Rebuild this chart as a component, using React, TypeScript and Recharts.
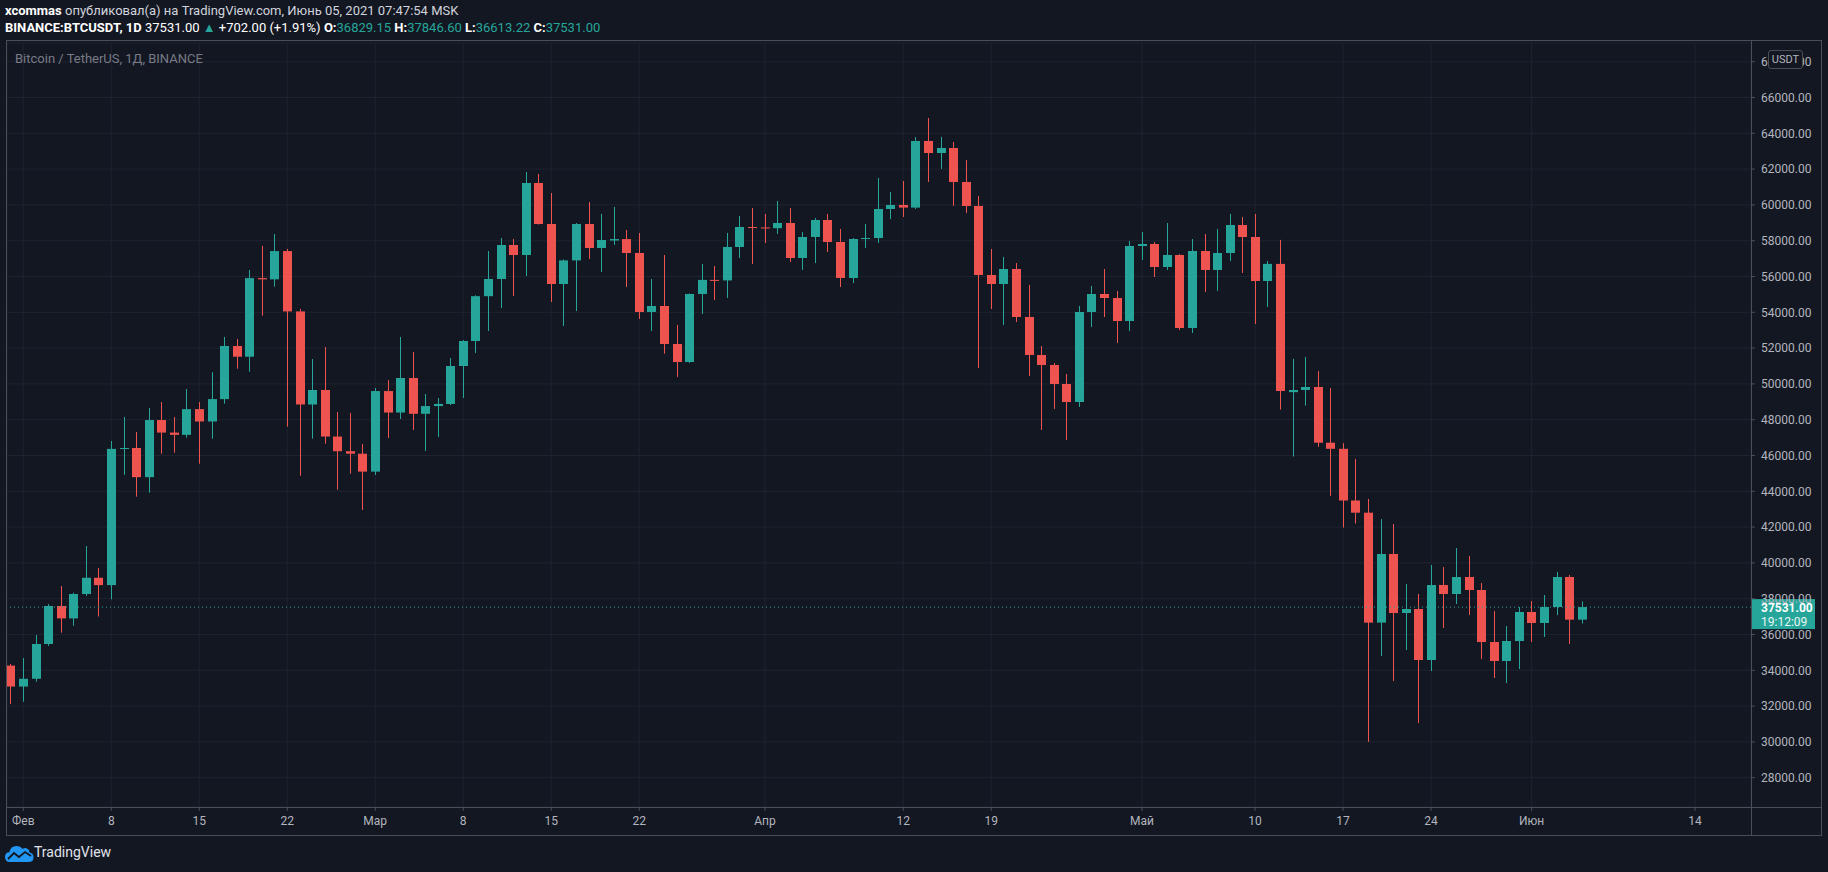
import React from 'react';
import { ComposedChart, Bar, XAxis, YAxis, CartesianGrid, ReferenceLine } from 'recharts';

// BINANCE:BTCUSDT daily, 31 Jan 2021 .. 5 Jun 2021
const open = [
  34262, 33092, 33526, 35469, 37592, 36900, 38262, 39170, 38760, 46370,
  46420, 44790, 47980, 47280, 47153, 48590, 47900, 49150, 52118, 51520,
  55910, 55841, 57420, 54050, 48850, 49660, 47060, 46240, 46100,
  45100, 49600, 48400, 50330, 48330, 48760, 48880, 51000, 52397, 54900,
  55860, 57760, 57202, 61224, 58934, 55582, 56900, 58934, 57593, 58010,
  58090, 57314, 54018, 54353, 52229, 51224, 55023, 55810, 55780, 57649, 58766,
  58740, 58700, 58990, 57035, 58208, 59157, 57928, 55917, 58096, 58150,
  59772, 59996, 59850, 63571, 62900, 63180, 61280, 59940, 56085, 55582,
  56420, 53738, 51615, 51056, 49995, 48989, 54017, 55023, 54800, 53515,
  57705, 57816, 56532, 57202, 53123, 57425, 56364, 57314, 58878, 58208,
  55749, 56705, 49540, 49659, 49827, 46715, 46374, 43486, 42804, 36664,
  40497, 37200, 37424, 34575, 38765, 38263, 39212, 38486, 35580, 34519, 35636,
  37256, 36642, 37535, 39212, 36829.15,
];

const high = [
  34351, 34686, 35972, 37700, 38709, 38335, 40944, 39715, 46810, 48151,
  47313, 48654, 48989, 48151, 49715, 48989, 50650, 52621, 52509, 56364,
  57705, 58375, 57537, 54185, 51391, 52062, 48430, 48374, 46642,
  49771, 50218, 52621, 51783, 49436, 49213, 51447, 52450, 54950, 57425,
  58152, 58096, 61839, 61727, 60666, 56950, 58990, 60163, 59493, 59884,
  58599, 58431, 55861, 57202, 53291, 55050, 56700, 56588, 58431, 59381, 59828,
  59493, 60219, 59828, 58487, 59269, 59493, 58655, 58150, 58934, 61504,
  60722, 61336, 63794, 64856, 63794, 63515, 62510, 60498, 57537, 57090,
  56754, 55526, 52118, 51168, 50553, 54353, 55470, 56420, 55191, 57984,
  58487, 57928, 58990, 57250, 58096, 58375, 58655, 59493, 59325, 59493,
  56866, 58046, 51397, 51509, 50715, 49771, 46693, 45804, 43575, 42447,
  42173, 38821, 38263, 39883, 39771, 40832, 40385, 38877, 37312, 36474, 37530,
  37871, 38206, 39492, 39325, 37846.6,
];

const low = [
  32116, 32245, 33362, 35360, 36100, 36491, 38150, 37005, 37966, 44920,
  43700, 43922, 46100, 46156, 46995, 45541, 46939, 48894, 50849, 50682,
  53810, 55431, 47609, 44871, 46939, 46659, 44090, 44983, 42955,
  44910, 46978, 48039, 47425, 46251, 47034, 48821, 49213, 51727, 52956,
  54241, 54911, 56029, 58900, 54576, 53235, 54073, 56979, 56252, 57761,
  55414, 53626, 52956, 51688, 50386, 51168, 53906, 54688, 54800, 57035, 56700,
  57872, 58375, 56811, 56366, 56754, 57370, 55414, 55637, 57593, 57872,
  59213, 59325, 59772, 61280, 62007, 59940, 59548, 50889, 54185, 53291,
  53459, 50442, 47425, 48598, 46866, 48710, 53179, 53738, 52285, 52956,
  56922, 55973, 56364, 53012, 52844, 55135, 55191, 56866, 56196, 53347,
  54297, 48564, 45939, 48788, 46486, 43748, 41972, 42201, 30000, 34798,
  33401, 35133, 31055, 33960, 36362, 37703, 37089, 34630, 33569, 33290, 34072,
  35580, 35860, 37089, 35469, 36613.22,
];

const close = [
  33092, 33526, 35469, 37592, 36900, 38262, 39170, 38760, 46370, 46420,
  44790, 47980, 47280, 47153, 48590, 47900, 49150, 52118, 51520, 55910,
  55841, 57420, 54050, 48850, 49660, 47060, 46240, 46100, 45100,
  49600, 48400, 50330, 48330, 48760, 48880, 51000, 52397, 54900, 55860,
  57760, 57202, 61224, 58934, 55582, 56900, 58934, 57593, 58040, 58090,
  57314, 54018, 54353, 52229, 51224, 55023, 55810, 55780, 57649, 58766, 58740,
  58700, 58990, 57035, 58208, 59157, 57928, 55917, 58096, 58150, 59772,
  59996, 59850, 63571, 62900, 63180, 61280, 59940, 56085, 55582, 56420,
  53738, 51615, 51056, 49995, 48989, 54017, 55023, 54800, 53515, 57705,
  57816, 56532, 57202, 53123, 57425, 56364, 57314, 58878, 58208, 55749,
  56705, 49604, 49659, 49827, 46715, 46374, 43486, 42804, 36664, 40497,
  37200, 37424, 34575, 38765, 38263, 39212, 38486, 35580, 34519, 35636, 37256,
  36642, 37535, 39212, 36829, 37531,
];

// day index 0 = 31 Jan
const xTickIdx = [1, 8, 15, 22, 29, 36, 43, 50, 60, 71, 78, 90, 99, 106, 113, 121, 134];
const xTickLabels = ['Фев', '8', '15', '22', 'Мар', '8', '15', '22', 'Апр', '12', '19', 'Май', '10', '17', '24', 'Июн', '14'];
const yTicks = [
  28000, 30000, 32000, 34000, 36000, 38000, 40000, 42000, 44000, 46000, 48000,
  50000, 52000, 54000, 56000, 58000, 60000, 62000, 64000, 66000, 68000,
];

const UP = '#26a69a';
const DOWN = '#ef5350';
const BG = '#131722';
const GRID = '#1f2330';
const FRAME = '#4a4e59';
const AXIS_TEXT = '#b2b5be';
const FONT = 'Roboto, "Open Sans", sans-serif';

const data = open.map((o, i) => ({
  i,
  open: o,
  high: high[i],
  low: low[i],
  close: close[i],
  range: [low[i], high[i]],
}));

const lastClose = close[close.length - 1];

const Candle = (props: any) => {
  const { x, y, width, height, payload } = props;
  if (x == null || y == null) return null;
  const top = Math.min(y, y + height);
  const h = Math.abs(height);
  const per = h / (payload.high - payload.low || 1);
  const yO = top + (payload.high - payload.open) * per;
  const yC = top + (payload.high - payload.close) * per;
  const color = payload.close >= payload.open ? UP : DOWN;
  const bx = Math.round(x);
  const cx = bx + Math.floor(width / 2) + 0.5;
  const bTop = Math.min(yO, yC);
  const bH = Math.max(Math.abs(yC - yO), 1);
  return (
    <g>
      <line x1={cx} x2={cx} y1={top} y2={top + h} stroke={color} strokeWidth={1} />
      <rect x={bx} y={bTop} width={width} height={bH} fill={color} />
    </g>
  );
};

const XTick = (p: any) => {
  const k = xTickIdx.indexOf(p.payload.value);
  return (
    <text x={p.x} y={p.y + 12} textAnchor="middle" fill={AXIS_TEXT} fontSize={12} fontFamily={FONT}>
      {k >= 0 ? xTickLabels[k] : ''}
    </text>
  );
};

const YTick = (p: any) => (
  <text x={p.x + 4} y={p.y + 4.3} textAnchor="start" fill={AXIS_TEXT} fontSize={12} fontFamily={FONT}>
    {Number(p.payload.value).toFixed(2)}
  </text>
);

const PriceTag = (p: any) => {
  const vb = p.viewBox || {};
  const x = (vb.x || 0) + (vb.width || 0);
  const y = vb.y || 0;
  return (
    <g>
      <rect x={x} y={y - 8} width={64} height={30} fill={UP} />
      <text x={x + 10} y={y + 4.5} fill="#ffffff" fontSize={12} fontWeight={700} fontFamily={FONT}>
        {lastClose.toFixed(2)}
      </text>
      <text x={x + 10} y={y + 18.5} fill="#e8f5f3" fontSize={12} fontFamily={FONT}>
        19:12:09
      </text>
    </g>
  );
};

const teal = { color: UP };
const bold = { fontWeight: 700 };

export default function App() {
  return (
    <div style={{ position: 'fixed', left: 0, top: 0, width: 1828, height: 872, background: BG, fontFamily: FONT, overflow: 'hidden' }}>
      <div style={{ position: 'absolute', left: 5, top: 3, fontSize: 13, color: '#d1d4dc', whiteSpace: 'nowrap' }}>
        <span style={{ ...bold, color: '#ffffff' }}>xcommas</span> опубликовал(а) на TradingView.com, Июнь 05, 2021 07:47:54 MSK
      </div>
      <div style={{ position: 'absolute', left: 5, top: 20, fontSize: 13, color: '#ffffff', whiteSpace: 'nowrap' }}>
        <span style={bold}>BINANCE:BTCUSDT, 1D</span> 37531.00 <span style={teal}>▲</span> +702.00 (+1.91%){' '}
        <span style={bold}>O:</span><span style={teal}>36829.15</span>{' '}
        <span style={bold}>H:</span><span style={teal}>37846.60</span>{' '}
        <span style={bold}>L:</span><span style={teal}>36613.22</span>{' '}
        <span style={bold}>C:</span><span style={teal}>37531.00</span>
      </div>

      <div style={{ position: 'absolute', left: 0, top: 0 }}>
        <ComposedChart width={1828} height={872} data={data} margin={{ top: 43, right: 7, bottom: 37, left: 7 }}>
          <CartesianGrid stroke={GRID} />
          <XAxis
            dataKey="i"
            type="number"
            domain={[-0.294, 138.45]}
            allowDataOverflow
            ticks={xTickIdx}
            interval={0}
            height={28}
            axisLine={false}
            tickLine={{ stroke: FRAME }}
            tickSize={4}
            tick={<XTick />}
          />
          <YAxis
            orientation="right"
            type="number"
            domain={[26363, 69045]}
            allowDataOverflow
            ticks={yTicks}
            interval={0}
            width={70}
            axisLine={false}
            tickLine={{ stroke: FRAME }}
            tickSize={4}
            tick={<YTick />}
          />
          <Bar dataKey="range" barSize={9} isAnimationActive={false} shape={Candle} />
          <ReferenceLine y={lastClose} stroke={UP} strokeDasharray="1 3" label={<PriceTag />} ifOverflow="visible" />
        </ComposedChart>
      </div>

      <svg width={1828} height={872} style={{ position: 'absolute', left: 0, top: 0, pointerEvents: 'none' }}>
        <rect x={6.5} y={40.5} width={1815} height={795} fill="none" stroke={FRAME} />
        <line x1={6.5} x2={1821.5} y1={807.5} y2={807.5} stroke={FRAME} />
        <line x1={1751.5} x2={1751.5} y1={40.5} y2={835.5} stroke={FRAME} />
      </svg>

      <div style={{ position: 'absolute', left: 15, top: 51, fontSize: 13, color: '#787b86', whiteSpace: 'nowrap' }}>
        Bitcoin / TetherUS, 1Д, BINANCE
      </div>

      <div
        style={{
          position: 'absolute', left: 1768, top: 50, width: 33, height: 17, border: `1px solid ${FRAME}`,
          borderRadius: 3, background: BG, color: AXIS_TEXT, fontSize: 11, lineHeight: '17px', textAlign: 'center',
        }}
      >
        USDT
      </div>

      <svg width={30} height={20} style={{ position: 'absolute', left: 5, top: 844 }}>
        <path d="M5 18 Q0 18 0 13 Q0 8.5 4.5 8 Q5.5 2 11.5 2 Q15.5 2 17.5 5 Q19.5 3.5 22 4.5 Q24.5 5.5 24.5 8.5 Q28.5 9 28.5 13.5 Q28.5 18 23.5 18 Z" fill="#2196f3" />
        <polyline points="3,15 9,9 14,13 20,8 26,12" stroke={BG} strokeWidth={1.8} fill="none" />
      </svg>
      <div style={{ position: 'absolute', left: 34, top: 844, fontSize: 14, color: '#e0e3eb', whiteSpace: 'nowrap' }}>
        TradingView
      </div>
    </div>
  );
}
